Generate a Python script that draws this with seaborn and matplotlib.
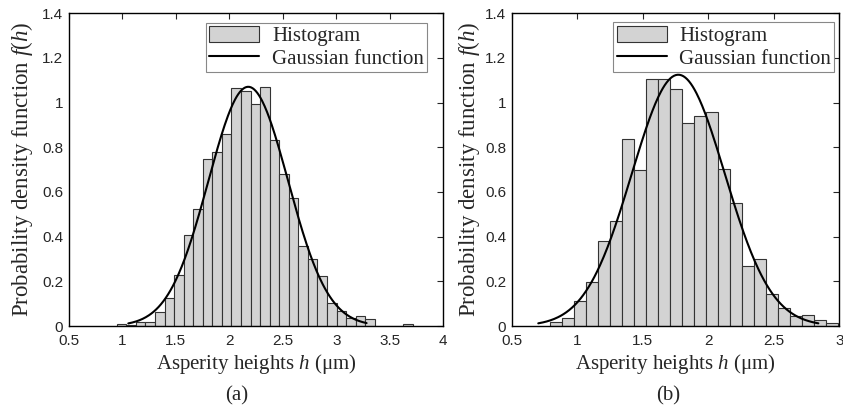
import matplotlib
matplotlib.use("Agg")
import matplotlib.pyplot as plt
from matplotlib.lines import Line2D
from matplotlib.patches import Patch
from matplotlib.ticker import FormatStrFormatter
import numpy as np
import pandas as pd
import seaborn as sns

# (a) histogram: 31 bins, first edge and bin width
a_start = 0.948
a_width = 0.0893
a_heights = [0.008, 0.006, 0.019, 0.020, 0.064, 0.124, 0.227, 0.406, 0.522, 0.746,
             0.779, 0.859, 1.064, 1.053, 0.994, 1.068, 0.831, 0.682, 0.573, 0.360,
             0.300, 0.226, 0.101, 0.067, 0.034, 0.046, 0.033, 0.0, 0.0, 0.0, 0.008]
# fitted Gaussian for (a): mean, std, drawn range
a_mu, a_sigma = 2.177, 0.3725
a_range = (1.056, 3.283)

# (b) histogram: 24 bins
b_start = 0.792
b_width = 0.0915
b_heights = [0.019, 0.034, 0.114, 0.197, 0.380, 0.472, 0.836, 0.699, 1.108, 1.108,
             1.062, 0.907, 0.942, 0.956, 0.704, 0.552, 0.270, 0.298, 0.142, 0.082,
             0.044, 0.049, 0.025, 0.012]
b_mu, b_sigma = 1.771, 0.3546
b_range = (0.702, 2.840)

a_xlim = (0.5, 4.0)
b_xlim = (0.5, 3.0)
ylim = (0, 1.4)

sns.set_style("white")
plt.rcParams["font.family"] = ["Liberation Serif", "DejaVu Serif"]
plt.rcParams["mathtext.fontset"] = "custom"
plt.rcParams["mathtext.rm"] = "Liberation Serif"
plt.rcParams["mathtext.it"] = "Liberation Serif:italic"

BAR = "#d3d3d3"
EDGE = "#333333"


def panel(ax, start, width, heights, mu, sigma, hrange, xlim, legend_anchor, ypad):
    n = len(heights)
    edges = [start + width * i for i in range(n + 1)]
    df = pd.DataFrame({"h": [e + width / 2 for e in edges[:-1]], "density": heights})
    sns.histplot(data=df, x="h", weights="density", bins=edges, color=BAR,
                 edgecolor=EDGE, linewidth=0.8, alpha=1, ax=ax)
    h = np.linspace(hrange[0], hrange[1], 300)
    f = np.exp(-0.5 * ((h - mu) / sigma) ** 2) / (sigma * np.sqrt(2 * np.pi))
    sns.lineplot(x=h, y=f, color="black", linewidth=1.5, ax=ax)
    ax.set_xlim(*xlim)
    ax.set_ylim(*ylim)
    ax.set_xticks(np.arange(xlim[0], xlim[1] + 0.01, 0.5))
    ax.set_yticks(np.arange(0, 1.41, 0.2))
    ax.xaxis.set_major_formatter(FormatStrFormatter("%g"))
    ax.yaxis.set_major_formatter(FormatStrFormatter("%g"))
    ax.tick_params(direction="in", top=True, right=True, length=4, width=0.8,
                   labelsize=11)
    ax.tick_params(axis="x", pad=6)
    ax.tick_params(axis="y", pad=4)
    for lab in ax.get_xticklabels() + ax.get_yticklabels():
        lab.set_fontfamily("Liberation Sans")
    for s in ax.spines.values():
        s.set_color("black")
        s.set_linewidth(1.0)
    ax.set_xlabel(r"Asperity heights $h$ (μm)", fontsize=15, labelpad=3)
    ax.set_ylabel(r"Probability density function $f$($h$)", fontsize=16.5,
                  labelpad=ypad)
    handles = [Patch(facecolor=BAR, edgecolor=EDGE, linewidth=0.8, label="Histogram"),
               Line2D([], [], color="black", linewidth=1.5, label="Gaussian function")]
    leg = ax.legend(handles=handles, loc="upper right", bbox_to_anchor=legend_anchor,
                    borderaxespad=0, fontsize=15, frameon=True, fancybox=False,
                    framealpha=1, edgecolor="#888888", handlelength=2.4,
                    handleheight=0.8, handletextpad=0.6, borderpad=0.16,
                    labelspacing=0.12)
    leg.get_frame().set_linewidth(0.8)


fig = plt.figure(figsize=(8.43, 4.05), dpi=100)
ax_a = fig.add_axes([68.8 / 843, 1 - 326 / 405, 374.5 / 843, 312.7 / 405])
ax_b = fig.add_axes([511.8 / 843, 1 - 326 / 405, 327.5 / 843, 312.7 / 405])

panel(ax_a, a_start, a_width, a_heights, a_mu, a_sigma, a_range, a_xlim,
      (0.957, 0.970), 5)
panel(ax_b, b_start, b_width, b_heights, b_mu, b_sigma, b_range, b_xlim,
      (0.985, 0.971), 2.4)

fig.text(237 / 843, 1 - 396 / 405, "(a)", ha="center", va="center", fontsize=15)
fig.text(668 / 843, 1 - 396 / 405, "(b)", ha="center", va="center", fontsize=15)

fig.savefig("out.png", dpi=100)
